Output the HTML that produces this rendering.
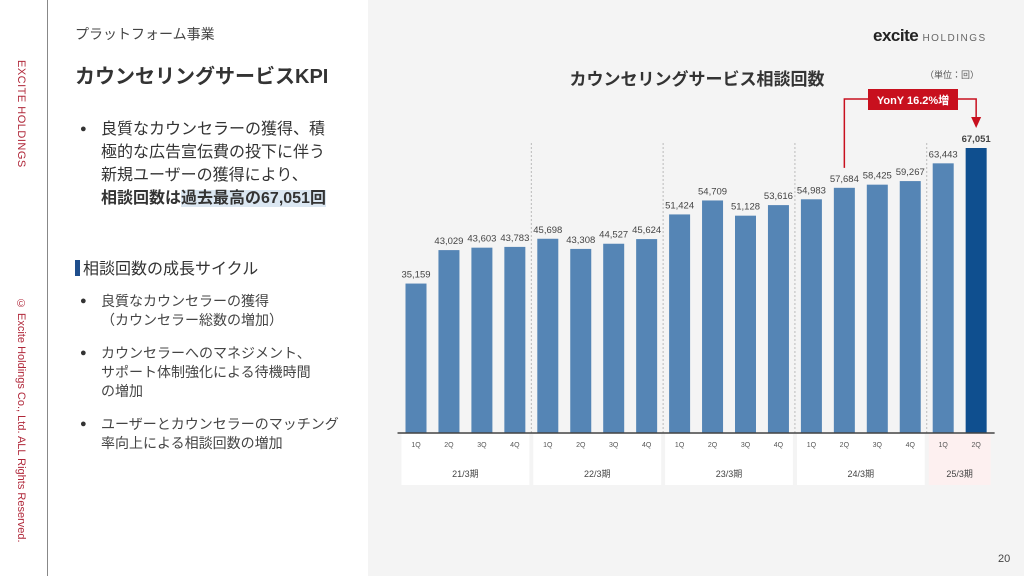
<!DOCTYPE html>
<html><head><meta charset="utf-8">
<style>
body{margin:0;width:1024px;height:576px;overflow:hidden;background:#fff;font-family:"Liberation Sans","Noto Sans CJK JP",sans-serif;position:relative;color:#333}
.abs{position:absolute}
#right{left:368px;top:0;width:656px;height:576px;background:#f4f4f4}
.vt{writing-mode:vertical-rl;color:#b0283a;font-size:11px;white-space:nowrap}
ul{list-style:none;margin:0;padding:0}
li{position:relative;padding-left:26px}
li:before{content:"●";position:absolute;left:5px;font-size:11px;color:#333}
</style></head><body>
<div class="abs" style="left:47px;top:0;width:1px;height:576px;background:#888"></div>
<div class="abs vt" style="left:15px;top:60px;letter-spacing:0.5px">EXCITE HOLDINGS</div>
<div class="abs vt" style="left:15px;top:298px">© Excite Holdings Co., Ltd. ALL Rights Reserved.</div>
<div class="abs" style="left:75px;top:24px;font-size:14px;color:#444">プラットフォーム事業</div>
<div class="abs" style="left:75px;top:60px;font-size:20px;font-weight:bold;color:#333">カウンセリングサービスKPI</div>
<ul class="abs" style="left:75px;top:118px;font-size:16px;line-height:23px;width:260px">
<li>良質なカウンセラーの獲得、積<br>極的な広告宣伝費の投下に伴う<br>新規ユーザーの獲得により、<br><b style="white-space:nowrap">相談回数は<span style="background:#dbe7f2">過去最高の67,051回</span></b></li></ul>
<div class="abs" style="left:75px;top:255px;font-size:16px;color:#333"><span style="display:inline-block;width:5px;height:16px;background:#1f4e8c;vertical-align:-2px;margin-right:3px"></span>相談回数の成長サイクル</div>
<ul class="abs" style="left:75px;top:292px;font-size:14px;line-height:19px;width:290px;color:#444">
<li style="margin-bottom:14px">良質なカウンセラーの獲得<br>（カウンセラー総数の増加）</li>
<li style="margin-bottom:14px">カウンセラーへのマネジメント、<br>サポート体制強化による待機時間<br>の増加</li>
<li>ユーザーとカウンセラーのマッチング<br>率向上による相談回数の増加</li></ul>
<div class="abs" id="right"></div>
<div class="abs" style="left:873px;top:26px;font-size:17px;font-weight:bold;color:#222;letter-spacing:-0.5px">excite <span style="font-size:10px;font-weight:normal;color:#666;letter-spacing:1.5px">HOLDINGS</span></div>
<div class="abs" style="left:998px;top:553px;font-size:11px;color:#444">20</div>
<svg class="abs" style="left:0;top:0" width="1024" height="576">
<text x="697" y="85" text-anchor="middle" font-size="17" font-weight="bold" fill="#333">カウンセリングサービス相談回数</text>
<text x="952" y="78" text-anchor="middle" font-size="9" fill="#555">（単位：回）</text>
<g id="g"></g>
</svg>
<script>
const quarters=["1Q","2Q","3Q","4Q","1Q","2Q","3Q","4Q","1Q","2Q","3Q","4Q","1Q","2Q","3Q","4Q","1Q","2Q"];
const values=[35159,43029,43603,43783,45698,43308,44527,45624,51424,54709,51128,53616,54983,57684,58425,59267,63443,67051];
const periods=["21/3期","22/3期","23/3期","24/3期","25/3期"];
const periodSizes=[4,4,4,4,2];
const NS="http://www.w3.org/2000/svg",g=document.getElementById('g');
const base=433,ppu=(433-148)/67051,x0=416,pitch=32.95,bw=21;
const xs=i=>x0+i*pitch, ys=v=>base-v*ppu;
function mk(t,a,txt){const e=document.createElementNS(NS,t);for(const k in a)e.setAttribute(k,a[k]);if(txt!=null)e.textContent=txt;g.appendChild(e);return e;}
let idx=0;
periods.forEach((p,j)=>{
  const n=periodSizes[j],l=xs(idx)-pitch/2+2,r=xs(idx+n-1)+pitch/2-2;
  const bx=mk('rect',{x:l,y:434,width:r-l,height:51,fill:j==4?'#fdf0f0':'#fff'});
  
  
  const t=mk('text',{x:(l+r)/2,y:477,'text-anchor':'middle','font-size':9,fill:'#444'},p);
  
  
  if(j>0){const s=mk('line',{x1:xs(idx)-pitch/2,x2:xs(idx)-pitch/2,y1:143,y2:433,stroke:'#bbb','stroke-dasharray':'2,2'});
    
    }
  idx+=n;
});
values.forEach((v,i)=>{
  const last=i==values.length-1;
  const b=mk('rect',{x:xs(i)-bw/2,y:ys(v),width:bw,height:base-ys(v),fill:last?'#0f4f8f':'#5585b5'});
  
  
  const t=mk('text',{x:xs(i),y:ys(v)-6,'text-anchor':'middle','font-size':9.5,fill:'#444','font-weight':last?'bold':'normal'},v.toLocaleString('en-US'));
  
  
  const q=mk('text',{x:xs(i),y:447,'text-anchor':'middle','font-size':7,fill:'#555'},quarters[i]);
  
  
});
const ax=mk('line',{x1:x0-pitch/2-2,x2:xs(17)+pitch/2+2,y1:base,y2:base,stroke:'#444','stroke-width':1.5});


const a1=xs(13),a2=xs(17);
const pl=mk('polyline',{points:`${a1},${ys(values[13])-20} ${a1},99 ${a2},99 ${a2},118`,fill:'none',stroke:'#c8101e','stroke-width':1.5});


const ar=mk('polygon',{points:`${a2-5},117 ${a2+5},117 ${a2},128`,fill:'#c8101e'});


const rb=mk('rect',{x:868,y:89,width:90,height:21,fill:'#c8101e'});


const rt=mk('text',{x:913,y:104,'text-anchor':'middle','font-size':11,'font-weight':'bold',fill:'#fff'},'YonY 16.2%増');


</script>
</body></html>
